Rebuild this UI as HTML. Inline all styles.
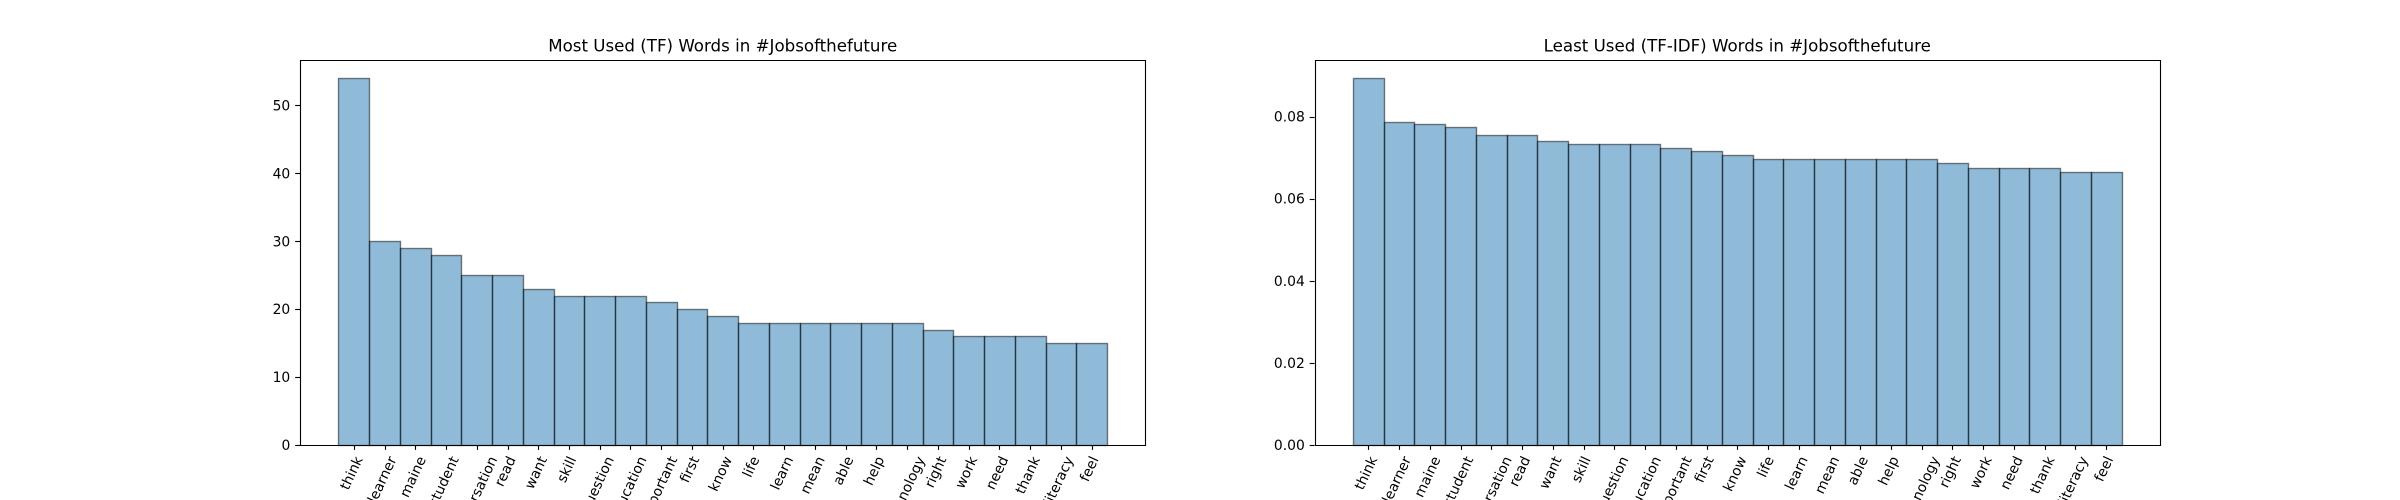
<!DOCTYPE html>
<html>
<head>
<meta charset="utf-8">
<title>Jobs of the future word charts</title>
<style>
html,body{margin:0;padding:0;background:#fff;width:2400px;height:500px;overflow:hidden}
svg{display:block}
text{font-family:"DejaVu Sans","Liberation Sans",sans-serif;fill:#000}
</style>
</head>
<body>
<svg id="figure" xmlns="http://www.w3.org/2000/svg" width="2400" height="500" viewBox="0 0 2400 500"></svg>
<script>
const words = ["think","learner","maine","student","conversation","read","want","skill","question","education","important","first","know","life","learn","mean","able","help","technology","right","work","need","thank","literacy","feel"];
const tfValues = [54,30,29,28,25,25,23,22,22,22,21,20,19,18,18,18,18,18,18,17,16,16,16,15,15];
const tfidfValues = [0.0893,0.0786,0.0781,0.0774,0.0755,0.0755,0.0740,0.0732,0.0732,0.0732,0.0723,0.0716,0.0706,0.0696,0.0696,0.0696,0.0696,0.0696,0.0696,0.0686,0.0674,0.0674,0.0674,0.0665,0.0665];
const tfTicks = [0,10,20,30,40,50];
const tfTickLabels = ["0","10","20","30","40","50"];
const tfidfTicks = [0,0.02,0.04,0.06,0.08];
const tfidfTickLabels = ["0.00","0.02","0.04","0.06","0.08"];
const tfTitle = "Most Used (TF) Words in #Jobsofthefuture";
const tfidfTitle = "Least Used (TF-IDF) Words in #Jobsofthefuture";

const NS = "http://www.w3.org/2000/svg";
const fig = document.getElementById("figure");
const AX_TOP = 60, AX_BOTTOM = 445;
const ROT = 65, LABEL_PX = 13.89, LABEL_SHIFT_X = -1.5;

function snap(v){ return Math.floor(v + 0.5) + 0.5; }
function make(parent, tag, attrs){
  const n = document.createElementNS(NS, tag);
  for (const k in attrs) n.setAttribute(k, attrs[k]);
  parent.appendChild(n);
  return n;
}

function drawPanel(panelName, left, right, values, ticks, tickLabels, title){
  const panel = make(fig, "g", {});
  
  

  const n = values.length;
  const xMin = -0.5 - 0.05 * n, xMax = n - 0.5 + 0.05 * n;
  const xScale = v => left + (v - xMin) / (xMax - xMin) * (right - left);
  const yMax = Math.max.apply(null, values) * 1.05;
  const yScale = v => AX_BOTTOM - v / yMax * (AX_BOTTOM - AX_TOP);

  values.forEach((val, i) => {
    const x0 = snap(xScale(i - 0.5)), x1 = snap(xScale(i + 0.5));
    const y0 = snap(yScale(val)), y1 = snap(yScale(0));
    const bar = make(panel, "rect", {x:x0, y:y0, width:x1-x0, height:y1-y0,
      fill:"rgba(31,119,180,0.5)", stroke:"rgba(0,0,0,0.5)", "stroke-width":1.39});
    
    
  });

  ticks.forEach((t, i) => {
    const y = snap(yScale(t));
    const tick = make(panel, "line", {x1:left-4.86, x2:left, y1:y, y2:y, stroke:"#000", "stroke-width":1.11});
    
    
    const lab = make(panel, "text", {x:left-9.72, y:yScale(t)+5.05, "text-anchor":"end", "font-size":"13.89px"});
    lab.textContent = tickLabels[i];
    
    
  });

  const rad = ROT * Math.PI / 180;
  words.forEach((w, i) => {
    const cx = xScale(i) + LABEL_SHIFT_X;
    const tx = snap(xScale(i));
    const tick = make(panel, "line", {x1:tx, x2:tx, y1:AX_BOTTOM, y2:AX_BOTTOM+4.86, stroke:"#000", "stroke-width":1.11});
    
    
    const lab = make(panel, "text", {"text-anchor":"middle", "font-size":LABEL_PX+"px"});
    lab.textContent = w;
    
    
    const W = lab.getComputedTextLength();
    const h = LABEL_PX * 0.996, d = LABEL_PX * 0.236;
    const boxH = W * Math.sin(rad) + h * Math.cos(rad);
    const cy = AX_BOTTOM + 9.72 + boxH / 2;
    lab.setAttribute("transform", "translate(" + cx + " " + cy + ") rotate(" + (-ROT) + ") translate(0 " + (h/2 - d) + ")");
  });

  const frame = [[left,AX_TOP,left,AX_BOTTOM,'left'],[right,AX_TOP,right,AX_BOTTOM,'right'],[left,AX_TOP,right,AX_TOP,'top'],[left,AX_BOTTOM,right,AX_BOTTOM,'bottom']];
  frame.forEach(s => {
    const sp = make(panel, "line", {x1:snap(s[0])-(s[4]==='top'||s[4]==='bottom'?0.5:0), y1:snap(s[1])-(s[4]==='left'||s[4]==='right'?0.5:0),
      x2:snap(s[2])+(s[4]==='top'||s[4]==='bottom'?0.5:0), y2:snap(s[3])+(s[4]==='left'||s[4]==='right'?0.5:0), stroke:"#000", "stroke-width":1.11});
    
    
  });

  const ttl = make(panel, "text", {x:(left+right)/2, y:AX_TOP-8.33, "text-anchor":"middle", "font-size":"16.67px"});
  ttl.textContent = title;
  
  
}

drawPanel("tf-chart", 300, 1145.45, tfValues, tfTicks, tfTickLabels, tfTitle);
drawPanel("tfidf-chart", 1314.55, 2160, tfidfValues, tfidfTicks, tfidfTickLabels, tfidfTitle);
</script>
</body>
</html>
